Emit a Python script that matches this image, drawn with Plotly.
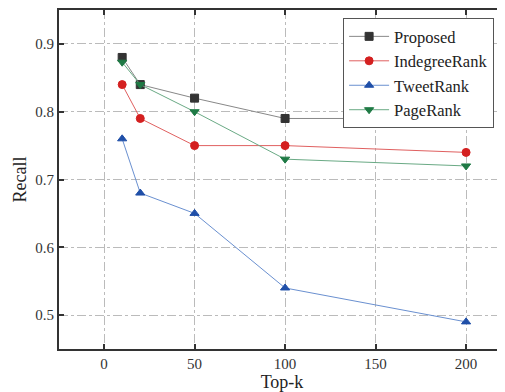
import plotly.graph_objects as go

top_k = [10, 20, 50, 100, 200]
proposed = [0.88, 0.84, 0.82, 0.79, 0.79]
indegree = [0.84, 0.79, 0.75, 0.75, 0.74]
tweetrank = [0.76, 0.68, 0.65, 0.54, 0.49]
pagerank = [0.873, 0.84, 0.80, 0.73, 0.72]

series = [
    ("Proposed", proposed, "#888888", "#333333", "square"),
    ("IndegreeRank", indegree, "#e06060", "#d42020", "circle"),
    ("TweetRank", tweetrank, "#6a90d0", "#1f4fa8", "triangle-up"),
    ("PageRank", pagerank, "#6aaa85", "#1f7a45", "triangle-down"),
]

fig = go.Figure()
for name, vals, lc, mc, sym in series:
    fig.add_trace(go.Scatter(
        x=top_k, y=vals, name=name, mode="lines+markers",
        line=dict(color=lc, width=1),
        marker=dict(symbol=sym, size=8, color=mc, line=dict(color=mc, width=1)),
    ))

font = "Liberation Serif, Times New Roman, serif"
# page has an 8px body margin, so the figure is sized to fit the rest of the window
fig.update_layout(
    width=497, height=384,
    margin=dict(l=51, r=0, t=2, b=43, autoexpand=False),
    plot_bgcolor="white", paper_bgcolor="white",
    font=dict(family=font, size=15, color="#333333"),
    legend=dict(x=0.637, y=0.976, xanchor="left", yanchor="top",
                bgcolor="white", bordercolor="#555555", borderwidth=1,
                font=dict(family=font, size=16.5, color="#222222"),
                tracegroupgap=0, itemwidth=40),
    showlegend=True,
)
fig.update_xaxes(
    range=[-24.9, 221.5], tickvals=[0, 50, 100, 150, 200],
    automargin=False,
    showgrid=True, gridcolor="#bbbbbb", griddash="dashdot", gridwidth=1,
    zeroline=False, showline=True, linecolor="#333333", linewidth=2,
    mirror="ticks", ticks="inside", ticklen=5, tickwidth=2, tickcolor="#333333",
    title=dict(text="Top-k", font=dict(size=18, family=font, color="#222222"), standoff=2),
    tickfont=dict(size=15),
)
fig.update_yaxes(
    range=[0.45, 0.95], tickvals=[0.5, 0.6, 0.7, 0.8, 0.9],
    tickformat=".1f", automargin=False,
    showgrid=True, gridcolor="#bbbbbb", griddash="dashdot", gridwidth=1,
    zeroline=False, showline=True, linecolor="#333333", linewidth=2,
    mirror="ticks", ticks="inside", ticklen=5, tickwidth=2, tickcolor="#333333",
    title=dict(text="Recall", font=dict(size=18, family=font, color="#222222"), standoff=4),
    tickfont=dict(size=15),
)
fig.write_html("out.html")
